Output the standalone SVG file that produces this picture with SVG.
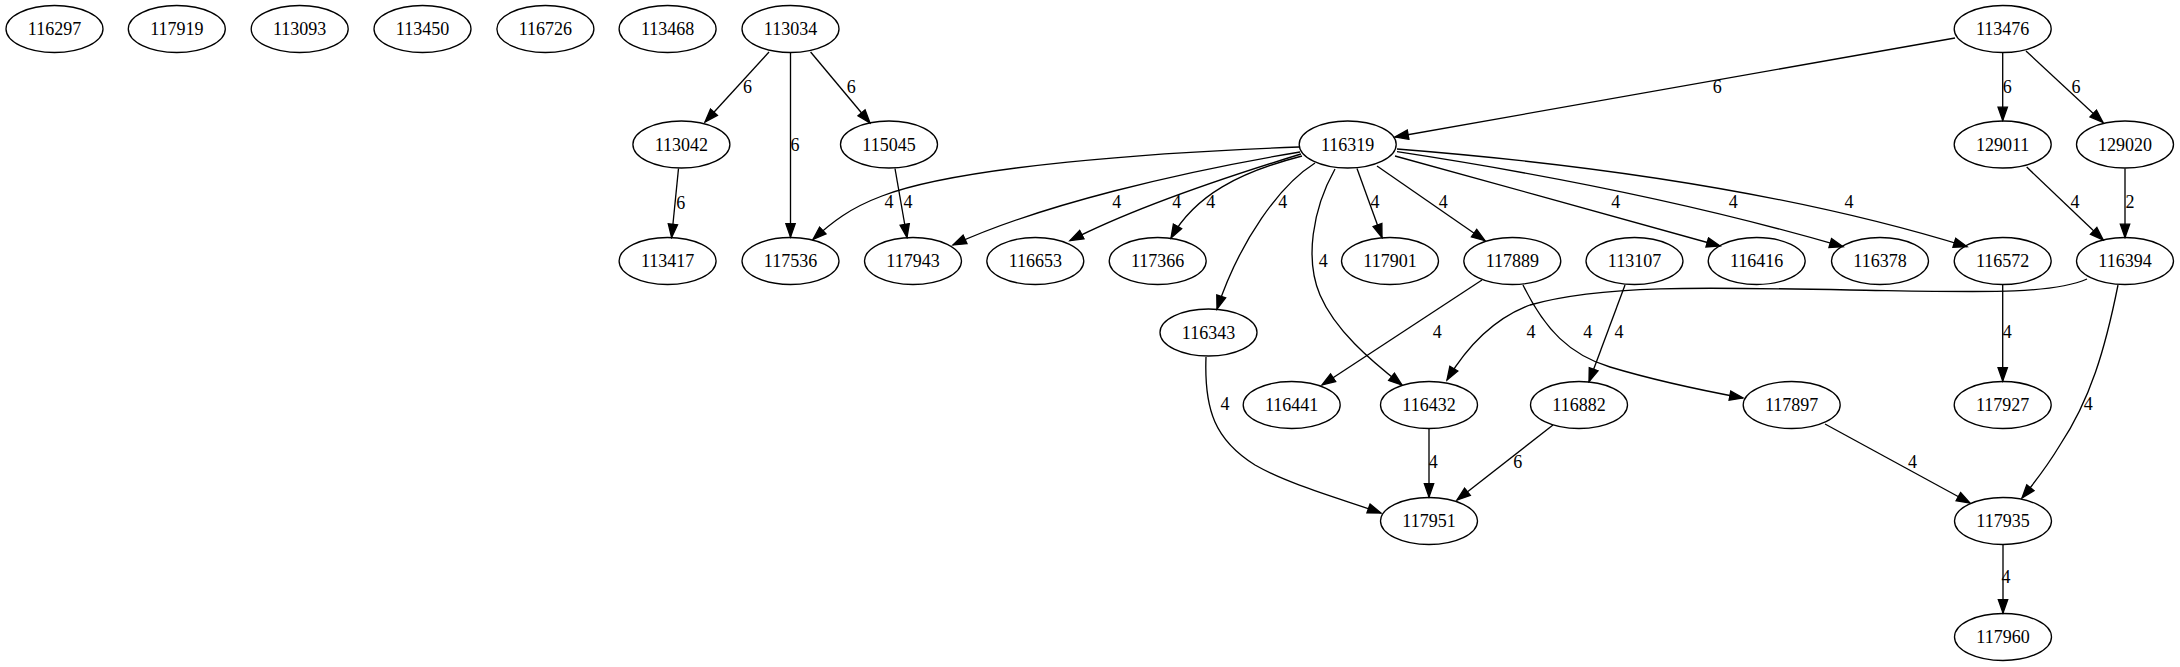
<svg xmlns="http://www.w3.org/2000/svg" width="2180" height="667" viewBox="0 0 2180 667">
<style>
.n ellipse{fill:none;stroke:#000;stroke-width:1.33}
text{font-family:"Liberation Serif","Times New Roman",serif;font-size:18px;text-anchor:middle;fill:#000}
.e path{fill:none;stroke:#000;stroke-width:1.33;marker-end:url(#a)}
</style>
<defs>
<marker id="a" markerUnits="userSpaceOnUse" viewBox="-1 -6 16 12" markerWidth="16" markerHeight="12" refX="13.3" refY="0" orient="auto">
<path d="M0,-4.67 L13.3,0 L0,4.67 Z" fill="#000" stroke="#000" stroke-width="1.33"/>
</marker>
</defs>
<rect width="2180" height="667" fill="#fff"/>
<g id="edges" class="e">
<path d="M769,52 L705,122"/>
<path d="M790.5,53 L790.5,237"/>
<path d="M810.6,52 L870,123"/>
<path d="M678.5,168.5 L671.6,237.5"/>
<path d="M895,168.5 L907,237.5"/>
<path d="M1955,38 L1395,137"/>
<path d="M2002.7,53 L2002.7,120.5"/>
<path d="M2026,51 L2103,122.5"/>
<path d="M2026.7,167 L2103.3,240"/>
<path d="M2125,168.5 L2125,237.5"/>
<path d="M1299,147 C1160,152 960,166 882,196 C850,208 832,222 813,239.5"/>
<path d="M1300,152 C1180,172 1040,205 953,245"/>
<path d="M1301,154 C1200,185 1120,215 1070,240.7"/>
<path d="M1302,156 C1240,172 1195,195 1171,238"/>
<path d="M1315,163 C1280,185 1240,240 1217,309"/>
<path d="M1335,169 C1312,210 1305,260 1320,295 C1335,330 1370,360 1402,385"/>
<path d="M1357,168.5 L1382,237.5"/>
<path d="M1377,166 L1485,240.7"/>
<path d="M1395,156 C1500,185 1620,218 1720,246"/>
<path d="M1397,151.7 C1550,175 1700,205 1843,246.7"/>
<path d="M1397,149 C1600,165 1800,195 1967,246.7"/>
<path d="M1482,280 L1322,385"/>
<path d="M1523,285 C1545,330 1570,355 1610,367 C1660,382 1700,390 1743,398"/>
<path d="M1625,285 L1589,381.7"/>
<path d="M2087,279 C2050,295 1980,292 1850,290 C1700,287 1600,285 1530,305 C1490,320 1465,350 1447,380"/>
<path d="M2118,285 C2105,350 2090,400 2060,445 C2048,465 2035,482 2022,498"/>
<path d="M2002.7,285 L2002.7,381"/>
<path d="M1206,357 C1204,410 1215,440 1255,465 C1290,485 1345,500 1381,513"/>
<path d="M1429,429 L1429,497"/>
<path d="M1553,425 L1457,500"/>
<path d="M1825,424 L1970,503"/>
<path d="M2003,545 L2003,613"/>
</g>
<g id="edge-labels">
<text x="747.4" y="92.7">6</text>
<text x="795" y="151">6</text>
<text x="851.3" y="92.7">6</text>
<text x="680.8" y="208.7">6</text>
<text x="889" y="208">4</text>
<text x="908" y="208">4</text>
<text x="1116.7" y="208">4</text>
<text x="1176.7" y="208">4</text>
<text x="1210.7" y="208">4</text>
<text x="1282.7" y="208">4</text>
<text x="1375" y="208">4</text>
<text x="1443.3" y="208">4</text>
<text x="1615.7" y="208">4</text>
<text x="1733.3" y="208">4</text>
<text x="1849" y="208">4</text>
<text x="1323.3" y="266.7">4</text>
<text x="1717.3" y="92.7">6</text>
<text x="2007.3" y="92.7">6</text>
<text x="2076" y="92.7">6</text>
<text x="2075" y="208">4</text>
<text x="2130" y="208">2</text>
<text x="1437.3" y="338.3">4</text>
<text x="1531" y="338.3">4</text>
<text x="1587.7" y="338.3">4</text>
<text x="1619" y="338.3">4</text>
<text x="2007.3" y="338.3">4</text>
<text x="2088.3" y="410.3">4</text>
<text x="1225" y="410.3">4</text>
<text x="1433.3" y="467.7">4</text>
<text x="1517.7" y="467.7">6</text>
<text x="1912.4" y="468.3">4</text>
<text x="2006" y="583.3">4</text>
</g>
<g id="n116297" class="n"><ellipse cx="54.5" cy="29" rx="48.5" ry="23.5"/><text x="54.5" y="35">116297</text></g>
<g id="n117919" class="n"><ellipse cx="176.8" cy="29" rx="48.5" ry="23.5"/><text x="176.8" y="35">117919</text></g>
<g id="n113093" class="n"><ellipse cx="299.7" cy="29" rx="48.5" ry="23.5"/><text x="299.7" y="35">113093</text></g>
<g id="n113450" class="n"><ellipse cx="422.5" cy="29" rx="48.5" ry="23.5"/><text x="422.5" y="35">113450</text></g>
<g id="n116726" class="n"><ellipse cx="545.4" cy="29" rx="48.5" ry="23.5"/><text x="545.4" y="35">116726</text></g>
<g id="n113468" class="n"><ellipse cx="667.6" cy="29" rx="48.5" ry="23.5"/><text x="667.6" y="35">113468</text></g>
<g id="n113034" class="n"><ellipse cx="790.5" cy="29" rx="48.5" ry="23.5"/><text x="790.5" y="35">113034</text></g>
<g id="n113476" class="n"><ellipse cx="2002.7" cy="29" rx="48.5" ry="23.5"/><text x="2002.7" y="35">113476</text></g>
<g id="n113042" class="n"><ellipse cx="681.4" cy="144.5" rx="48.5" ry="23.5"/><text x="681.4" y="150.5">113042</text></g>
<g id="n115045" class="n"><ellipse cx="889" cy="144.5" rx="48.5" ry="23.5"/><text x="889" y="150.5">115045</text></g>
<g id="n116319" class="n"><ellipse cx="1347.7" cy="144.5" rx="48.5" ry="23.5"/><text x="1347.7" y="150.5">116319</text></g>
<g id="n129011" class="n"><ellipse cx="2002.7" cy="144.5" rx="48.5" ry="23.5"/><text x="2002.7" y="150.5">129011</text></g>
<g id="n129020" class="n"><ellipse cx="2125" cy="144.5" rx="48.5" ry="23.5"/><text x="2125" y="150.5">129020</text></g>
<g id="n113417" class="n"><ellipse cx="667.6" cy="261" rx="48.5" ry="23.5"/><text x="667.6" y="267">113417</text></g>
<g id="n117536" class="n"><ellipse cx="790.5" cy="261" rx="48.5" ry="23.5"/><text x="790.5" y="267">117536</text></g>
<g id="n117943" class="n"><ellipse cx="913" cy="261" rx="48.5" ry="23.5"/><text x="913" y="267">117943</text></g>
<g id="n116653" class="n"><ellipse cx="1035.3" cy="261" rx="48.5" ry="23.5"/><text x="1035.3" y="267">116653</text></g>
<g id="n117366" class="n"><ellipse cx="1157.7" cy="261" rx="48.5" ry="23.5"/><text x="1157.7" y="267">117366</text></g>
<g id="n117901" class="n"><ellipse cx="1390" cy="261" rx="48.5" ry="23.5"/><text x="1390" y="267">117901</text></g>
<g id="n117889" class="n"><ellipse cx="1512.3" cy="261" rx="48.5" ry="23.5"/><text x="1512.3" y="267">117889</text></g>
<g id="n113107" class="n"><ellipse cx="1634.5" cy="261" rx="48.5" ry="23.5"/><text x="1634.5" y="267">113107</text></g>
<g id="n116416" class="n"><ellipse cx="1756.7" cy="261" rx="48.5" ry="23.5"/><text x="1756.7" y="267">116416</text></g>
<g id="n116378" class="n"><ellipse cx="1880" cy="261" rx="48.5" ry="23.5"/><text x="1880" y="267">116378</text></g>
<g id="n116572" class="n"><ellipse cx="2002.7" cy="261" rx="48.5" ry="23.5"/><text x="2002.7" y="267">116572</text></g>
<g id="n116394" class="n"><ellipse cx="2125" cy="261" rx="48.5" ry="23.5"/><text x="2125" y="267">116394</text></g>
<g id="n116343" class="n"><ellipse cx="1208.5" cy="332.5" rx="48.5" ry="23.5"/><text x="1208.5" y="338.5">116343</text></g>
<g id="n116441" class="n"><ellipse cx="1291.7" cy="405" rx="48.5" ry="23.5"/><text x="1291.7" y="411">116441</text></g>
<g id="n116432" class="n"><ellipse cx="1429" cy="405" rx="48.5" ry="23.5"/><text x="1429" y="411">116432</text></g>
<g id="n116882" class="n"><ellipse cx="1579" cy="405" rx="48.5" ry="23.5"/><text x="1579" y="411">116882</text></g>
<g id="n117897" class="n"><ellipse cx="1791.7" cy="405" rx="48.5" ry="23.5"/><text x="1791.7" y="411">117897</text></g>
<g id="n117927" class="n"><ellipse cx="2002.7" cy="405" rx="48.5" ry="23.5"/><text x="2002.7" y="411">117927</text></g>
<g id="n117951" class="n"><ellipse cx="1429" cy="521" rx="48.5" ry="23.5"/><text x="1429" y="527">117951</text></g>
<g id="n117935" class="n"><ellipse cx="2003" cy="521" rx="48.5" ry="23.5"/><text x="2003" y="527">117935</text></g>
<g id="n117960" class="n"><ellipse cx="2003" cy="637" rx="48.5" ry="23.5"/><text x="2003" y="643">117960</text></g>
</svg>
